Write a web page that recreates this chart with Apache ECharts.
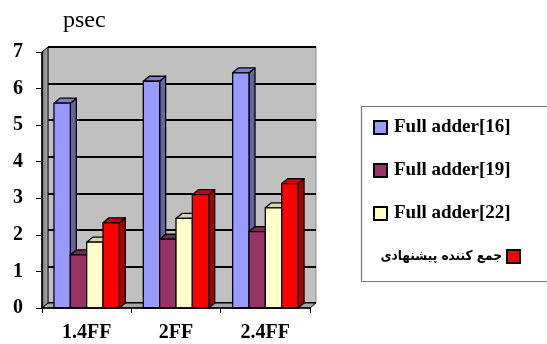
<!DOCTYPE html>
<html>
<head>
<meta charset="utf-8">
<script src="https://cdn.jsdelivr.net/npm/echarts@6/dist/echarts.min.js"></script>
<style>
  html, body { margin: 0; padding: 0; background: #ffffff; }
  #chart { width: 547px; height: 344px; }
</style>
</head>
<body>
<div id="chart"></div>
<script>
// Delay (psec) of each adder design at three output loads
const categories = ['1.4FF', '2FF', '2.4FF'];
const seriesNames = ['Full adder[16]', 'Full adder[19]', 'Full adder[22]', 'جمع کننده پیشنهادی'];
const fullAdder16 = [5.6, 6.2, 6.43];
const fullAdder19 = [1.45, 1.88, 2.09];
const fullAdder22 = [1.8, 2.45, 2.74];
const proposedAdder = [2.33, 3.1, 3.4];
const yTicks = [0, 1, 2, 3, 4, 5, 6, 7];

// Face colours for the pseudo-3D columns: front, side, top
const palette = [
  { front: '#9999ff', side: '#66669e', top: '#7f7fd6' },
  { front: '#993366', side: '#5e1f3f', top: '#7a2951' },
  { front: '#ffffcc', side: '#bdbd98', top: '#d6d6ab' },
  { front: '#ff0000', side: '#a80000', top: '#cc0000' }
];

// Depth of the 3D box (pixels to the right and upwards)
const DX = 6, DY = 5;
const serif = 'Liberation Serif';

const chart = echarts.init(document.getElementById('chart'), null, { renderer: 'canvas' });

function barRenderer(s) {
  return function (params, api) {
    const idx = api.value(0);
    const v = api.value(1);
    const top = api.coord([idx, v]);
    const base = api.coord([idx, 0]);
    const band = api.size([1, 0])[0];
    const w = band * 0.183;
    const x0 = top[0] - 2 * w + s * w;
    const x1 = x0 + w;
    const yt = top[1], yb = base[1];
    const c = palette[s];
    const stroke = { stroke: '#000', lineWidth: 1.3, lineJoin: 'round' };
    return {
      type: 'group',
      children: [
        { type: 'polygon', shape: { points: [[x1, yt], [x1 + DX, yt - DY], [x1 + DX, yb - DY], [x1, yb]] },
          style: Object.assign({ fill: c.side }, stroke) },
        { type: 'polygon', shape: { points: [[x0, yt], [x0 + DX, yt - DY], [x1 + DX, yt - DY], [x1, yt]] },
          style: Object.assign({ fill: c.top }, stroke) },
        { type: 'rect', shape: { x: x0, y: yt, width: w, height: yb - yt },
          style: Object.assign({ fill: c.front }, stroke) }
      ]
    };
  };
}

function wallRenderer(params) {
  const cs = params.coordSys;
  const xl = cs.x, xr = cs.x + cs.width, yt = cs.y, yb = cs.y + cs.height;
  return {
    type: 'group',
    children: [
      // left side wall
      { type: 'polygon', shape: { points: [[xl, yb], [xl, yt], [xl + DX, yt - DY], [xl + DX, yb - DY]] },
        style: { fill: new echarts.graphic.LinearGradient(0, 0, 1, 0, [
          { offset: 0, color: '#6e6e6e' }, { offset: 1, color: '#b4b4b4' }]), stroke: '#000', lineWidth: 1 } },
      // floor
      { type: 'polygon', shape: { points: [[xl, yb], [xr, yb], [xr + DX, yb - DY], [xl + DX, yb - DY]] },
        style: { fill: '#a6a6a6', stroke: '#000', lineWidth: 1 } }
    ]
  };
}

const rows = [fullAdder16, fullAdder19, fullAdder22, proposedAdder];

const barSeries = rows.map(function (vals, s) {
  return {
    name: seriesNames[s],
    type: 'custom',
    xAxisIndex: 0,
    yAxisIndex: 0,
    z: 3 + s,
    renderItem: barRenderer(s),
    itemStyle: { color: palette[s].front, borderColor: '#000', borderWidth: 2 },
    encode: { x: 0, y: 1 },
    data: vals.map(function (v, i) { return [i, v]; })
  };
});

const option = {
  backgroundColor: '#ffffff',
  animation: false,
  title: {
    text: 'psec',
    left: 58,
    top: 4,
    textStyle: { fontFamily: serif, fontSize: 24, fontWeight: 'normal', color: '#000' }
  },
  graphic: [{
    type: 'rect',
    left: 359, top: 104,
    shape: { width: 200, height: 175 },
    style: { fill: 'none', stroke: '#7a7a7a', lineWidth: 1.2 },
    z: 0
  }],
  legend: [
    {
      data: seriesNames.slice(0, 3),
      orient: 'vertical',
      left: 373,
      top: 118,
      padding: 0,
      itemWidth: 13,
      itemHeight: 13,
      itemGap: 24,
      icon: 'rect',
      selectedMode: false,
      itemStyle: { borderColor: '#000', borderWidth: 2 },
      textStyle: { fontFamily: serif, fontSize: 19, fontWeight: 'bold', color: '#000', padding: [0, 0, 0, 2] }
    },
    {
      data: seriesNames.slice(3),
      orient: 'vertical',
      align: 'right',
      right: 26,
      top: 249,
      padding: 0,
      itemWidth: 13,
      itemHeight: 13,
      icon: 'rect',
      selectedMode: false,
      itemStyle: { borderColor: '#000', borderWidth: 2 },
      textStyle: { fontFamily: '"DejaVu Sans Condensed", "DejaVu Sans"', fontSize: 13.5, fontWeight: 'bold', color: '#000' }
    }
  ],
  grid: [
    // front plane: carries the axes and the columns
    { left: 42, right: 237, top: 52, bottom: 36 },
    // back wall, shifted by the 3D depth
    { left: 42 + DX, right: 237 - DX, top: 52 - DY, bottom: 36 + DY,
      show: true, backgroundColor: '#c0c0c0', borderColor: '#8a8a8a', borderWidth: 1 }
  ],
  xAxis: [
    {
      gridIndex: 0,
      type: 'category',
      data: categories,
      boundaryGap: true,
      axisLine: { lineStyle: { color: '#000', width: 1.5 } },
      axisTick: { show: true, interval: 0, length: 5, lineStyle: { color: '#000', width: 1 } },
      axisLabel: { margin: 15, fontFamily: serif, fontSize: 20, fontWeight: 'bold', color: '#000' },
      z: 10
    },
    {
      gridIndex: 1,
      type: 'category',
      data: categories,
      show: false
    }
  ],
  yAxis: [
    {
      gridIndex: 0,
      type: 'value',
      min: yTicks[0],
      max: yTicks[yTicks.length - 1],
      interval: 1,
      axisLine: { show: true, lineStyle: { color: '#000', width: 1.5 } },
      axisTick: { show: true, length: 6, lineStyle: { color: '#000', width: 1 } },
      axisLabel: { margin: 19, fontFamily: serif, fontSize: 20, fontWeight: 'bold', color: '#000' },
      splitLine: { show: false },
      z: 10
    },
    {
      gridIndex: 1,
      type: 'value',
      min: yTicks[0],
      max: yTicks[yTicks.length - 1],
      interval: 1,
      axisLine: { show: false },
      axisTick: { show: false },
      axisLabel: { show: false },
      splitLine: { show: true, lineStyle: { color: '#000', width: 2 } }
    }
  ],
  series: [
    {
      type: 'custom',
      name: 'walls',
      xAxisIndex: 0,
      yAxisIndex: 0,
      z: 1,
      silent: true,
      renderItem: wallRenderer,
      data: [[0, 0]]
    }
  ].concat(barSeries)
};

chart.setOption(option);
</script>
</body>
</html>
